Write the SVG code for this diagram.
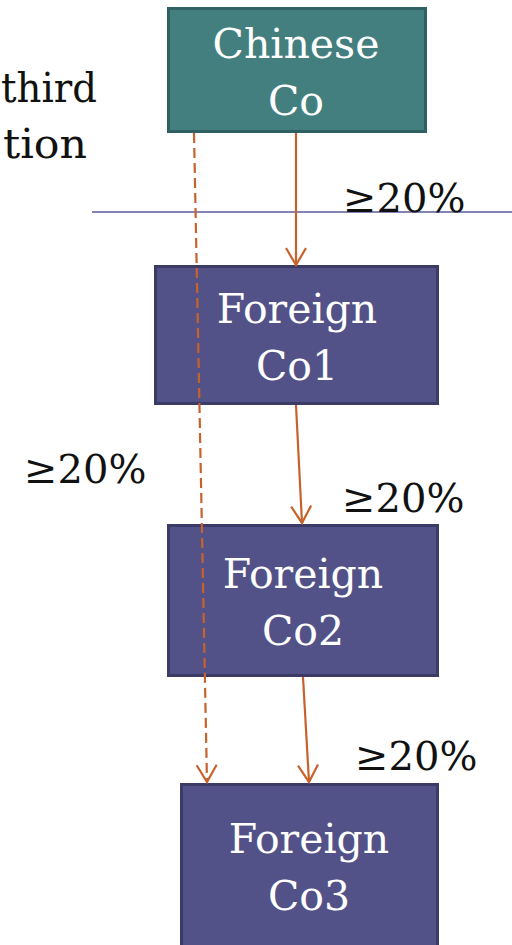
<svg xmlns="http://www.w3.org/2000/svg" width="512" height="945" viewBox="0 0 512 945">
  <style>
    .box-cn { fill: #447f80; stroke: #2f6163; stroke-width: 3; }
    .box-fo { fill: #525288; stroke: #3b3b66; stroke-width: 3; }
    .lbl { font-family: "DejaVu Serif", "Liberation Serif", serif; font-size: 41px; fill: #ffffff; text-anchor: middle; }
    .pct { font-family: "DejaVu Serif", "Liberation Serif", serif; font-size: 40px; fill: #111111; }
    .side { font-family: "DejaVu Serif", "Liberation Serif", serif; font-size: 41px; fill: #111111; }
    .edge { stroke: #c8622c; stroke-width: 2.2; fill: none; }
    .dash { stroke-dasharray: 10 5; }
  </style>
  <defs>
    <!-- open V arrowhead, tip at the line end -->
    <marker id="vhead" markerUnits="userSpaceOnUse" viewBox="-19 -12 22 24" refX="0" refY="0" markerWidth="22" markerHeight="24" orient="auto">
      <path d="M-17,-10 L0,0 L-17,10" fill="none" stroke="#c8622c" stroke-width="2.2"/>
    </marker>
  </defs>

  <!-- side caption, running off the left edge -->
  <text class="side" x="1" y="102" textLength="96" lengthAdjust="spacingAndGlyphs">third</text>
  <text class="side" x="3" y="158" textLength="84" lengthAdjust="spacingAndGlyphs">tion</text>

  <!-- boundary line -->
  <line x1="92" y1="212" x2="512" y2="212" stroke="#5b5b9b" stroke-width="1.6"/>

  <g id="chinese-co">
    <rect class="box-cn" x="168.5" y="8.5" width="257" height="123"/>
    <text class="lbl" x="296" y="58">Chinese</text>
    <text class="lbl" x="296" y="115">Co</text>
  </g>

  <g id="foreign-co1">
    <rect class="box-fo" x="155.5" y="266.5" width="282" height="137"/>
    <text class="lbl" x="297" y="323">Foreign</text>
    <text class="lbl" x="297" y="380">Co1</text>
  </g>

  <g id="foreign-co2">
    <rect class="box-fo" x="168.5" y="525.5" width="269" height="150"/>
    <text class="lbl" x="303" y="588">Foreign</text>
    <text class="lbl" x="303" y="645">Co2</text>
  </g>

  <g id="foreign-co3">
    <rect class="box-fo" x="181.5" y="784.5" width="256" height="180"/>
    <text class="lbl" x="309" y="853">Foreign</text>
    <text class="lbl" x="309" y="910">Co3</text>
  </g>

  <g id="connectors">
    <line class="edge" x1="296" y1="133" x2="296" y2="265" marker-end="url(#vhead)"/>
    <line class="edge" x1="296" y1="405" x2="302" y2="523" marker-end="url(#vhead)"/>
    <line class="edge" x1="303" y1="677" x2="309" y2="782" marker-end="url(#vhead)"/>
    <line class="edge dash" x1="194" y1="133" x2="207" y2="782" marker-end="url(#vhead)"/>
  </g>

  <g id="shares">
    <text class="pct" x="343" y="212">≥20%</text>
    <text class="pct" x="342" y="512">≥20%</text>
    <text class="pct" x="355" y="770">≥20%</text>
    <text class="pct" x="24" y="483">≥20%</text>
  </g>
</svg>
